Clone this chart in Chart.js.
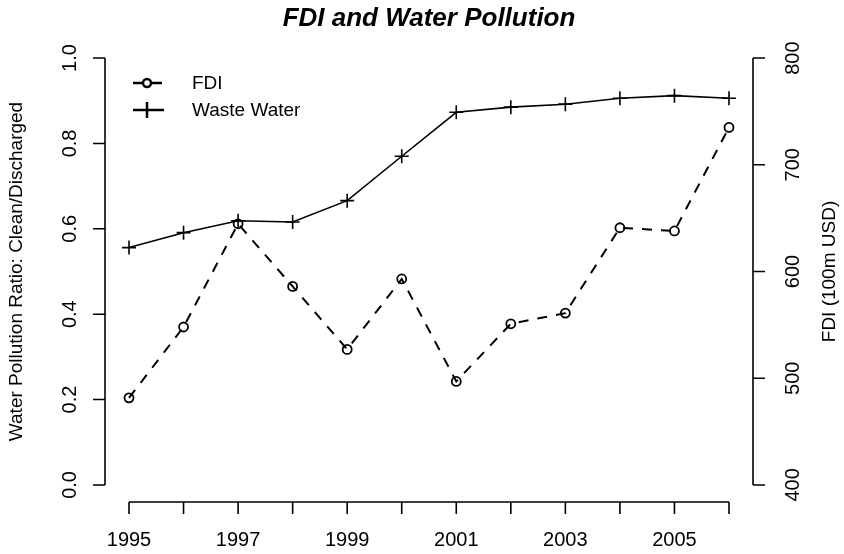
<!DOCTYPE html>
<html>
<head>
<meta charset="utf-8">
<script src="https://cdn.jsdelivr.net/npm/chart.js@4/dist/chart.umd.min.js"></script>
<style>
  body { margin: 0; background: #fff; }
  #wrap { width: 844px; height: 554px; }
</style>
</head>
<body>
<div id="wrap"><canvas id="fdiChart" width="844" height="554"></canvas></div>
<script>
const years = [1995, 1996, 1997, 1998, 1999, 2000, 2001, 2002, 2003, 2004, 2005, 2006];
const wasteWater = [0.556, 0.591, 0.619, 0.616, 0.666, 0.770, 0.873, 0.885, 0.892, 0.906, 0.912, 0.906];
const fdi = [481.6, 548, 644.7, 586, 527, 593, 497, 551, 561, 641, 638, 735];
const xTickLabels = ['1995', '', '1997', '', '1999', '', '2001', '', '2003', '', '2005', ''];
const yTicks = [0, 0.2, 0.4, 0.6, 0.8, 1.0];
const y2Ticks = [400, 500, 600, 700, 800];

const FONT = '"Liberation Sans", Arial, sans-serif';

// R style axes, titles and legend drawn on top of the chart
const rAxes = {
  id: 'rAxes',
  afterDraw(chart) {
    const c = chart.ctx;
    const x = chart.scales.x, y = chart.scales.y, y2 = chart.scales.y2;
    const area = chart.chartArea;
    const tick = 12;
    c.save();
    c.strokeStyle = '#000';
    c.fillStyle = '#000';
    c.lineWidth = 1.6;

    // x axis
    const xb = area.bottom;
    c.beginPath();
    c.moveTo(x.getPixelForValue(years[0]), xb);
    c.lineTo(x.getPixelForValue(years[years.length - 1]), xb);
    years.forEach(v => {
      const px = x.getPixelForValue(v);
      c.moveTo(px, xb);
      c.lineTo(px, xb + tick);
    });
    c.stroke();
    c.font = '20px ' + FONT;
    c.textAlign = 'center';
    c.textBaseline = 'middle';
    years.forEach((v, i) => {
      if (xTickLabels[i]) c.fillText(xTickLabels[i], x.getPixelForValue(v), xb + 38);
    });

    // left axis
    const lx = area.left;
    c.beginPath();
    c.moveTo(lx, y.getPixelForValue(yTicks[0]));
    c.lineTo(lx, y.getPixelForValue(yTicks[yTicks.length - 1]));
    yTicks.forEach(v => {
      const py = y.getPixelForValue(v);
      c.moveTo(lx, py);
      c.lineTo(lx - tick, py);
    });
    c.stroke();
    yTicks.forEach(v => {
      c.save();
      c.translate(lx - 35, y.getPixelForValue(v));
      c.rotate(-Math.PI / 2);
      c.fillText(v.toFixed(1), 0, 0);
      c.restore();
    });

    // right axis
    const rx = area.right;
    c.beginPath();
    c.moveTo(rx, y2.getPixelForValue(y2Ticks[0]));
    c.lineTo(rx, y2.getPixelForValue(y2Ticks[y2Ticks.length - 1]));
    y2Ticks.forEach(v => {
      const py = y2.getPixelForValue(v);
      c.moveTo(rx, py);
      c.lineTo(rx + tick, py);
    });
    c.stroke();
    y2Ticks.forEach(v => {
      c.save();
      c.translate(rx + 40, y2.getPixelForValue(v));
      c.rotate(-Math.PI / 2);
      c.fillText(String(v), 0, 0);
      c.restore();
    });

    // axis titles
    const midY = (area.top + area.bottom) / 2;
    c.font = '19px ' + FONT;
    c.save();
    c.translate(17, midY);
    c.rotate(-Math.PI / 2);
    c.fillText('Water Pollution Ratio: Clean/Discharged', 0, 0);
    c.restore();
    c.save();
    c.translate(830, midY);
    c.rotate(-Math.PI / 2);
    c.fillText('FDI (100m USD)', 0, 0);
    c.restore();

    // main title
    c.font = 'italic bold 26px ' + FONT;
    c.fillText('FDI and Water Pollution', (area.left + area.right) / 2, 19);

    // legend
    const items = chart.data.datasets;
    c.font = '19px ' + FONT;
    c.textAlign = 'left';
    items.forEach((ds, i) => {
      const ly = 83 + i * 27;
      c.save();
      c.lineWidth = 2.5;
      c.setLineDash(ds.borderDash || []);
      c.beginPath();
      c.moveTo(133, ly);
      c.lineTo(164, ly);
      c.stroke();
      c.restore();
      c.save();
      c.lineWidth = 2.5;
      if (ds.pointStyle === 'circle') {
        c.fillStyle = '#fff';
        c.beginPath();
        c.arc(147, ly, 4, 0, Math.PI * 2);
        c.fill();
        c.stroke();
      } else {
        c.beginPath();
        c.moveTo(147, ly - 8);
        c.lineTo(147, ly + 8);
        c.stroke();
      }
      c.restore();
      c.fillText(ds.label, 192, ly + 1);
    });
    c.restore();
  }
};

const ctx = document.getElementById('fdiChart').getContext('2d');
const chart = new Chart(ctx, {
  type: 'line',
  data: {
    datasets: [
      {
        label: 'FDI',
        yAxisID: 'y2',
        data: years.map((yr, i) => ({ x: yr, y: fdi[i] })),
        borderColor: '#000',
        borderWidth: 2,
        borderDash: [10, 9],
        pointStyle: 'circle',
        pointRadius: 4.5,
        pointBorderWidth: 1.8,
        pointBackgroundColor: 'rgba(0,0,0,0)',
        pointBorderColor: '#000',
        tension: 0
      },
      {
        label: 'Waste Water',
        yAxisID: 'y',
        data: years.map((yr, i) => ({ x: yr, y: wasteWater[i] })),
        borderColor: '#000',
        borderWidth: 1.6,
        pointStyle: 'cross',
        pointRadius: 7,
        pointBorderWidth: 1.6,
        pointBorderColor: '#000',
        tension: 0
      }
    ]
  },
  options: {
    responsive: false,
    animation: false,
    layout: { padding: { left: 105, right: 91, top: 41, bottom: 52 } },
    scales: {
      x: { type: 'linear', min: 1994.56, max: 2006.44, display: false },
      y: { min: -0.04, max: 1.04, display: false },
      y2: { min: 384, max: 816, display: false }
    },
    plugins: {
      legend: { display: false },
      tooltip: { enabled: false }
    }
  },
  plugins: [rAxes]
});
</script>
</body>
</html>
